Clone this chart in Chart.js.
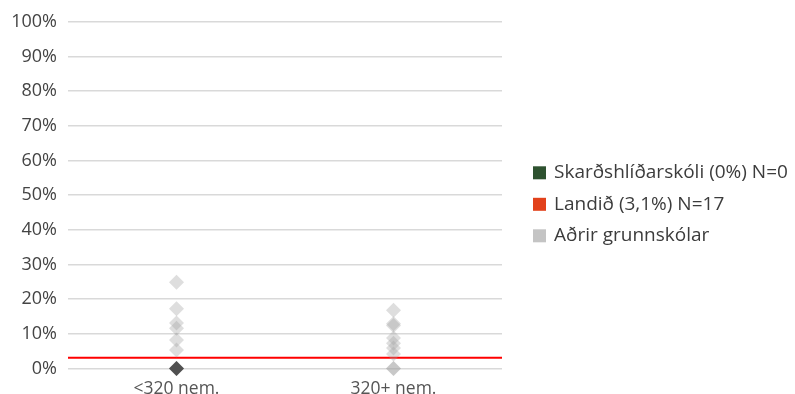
<!DOCTYPE html>
<html>
<head>
<meta charset="utf-8">
<script src="https://cdn.jsdelivr.net/npm/chart.js@4.4.0/dist/chart.umd.min.js"></script>
<style>
html,body{margin:0;padding:0;background:#fff;}
#wrap{width:795px;height:394px;}
</style>
</head>
<body>
<div id="wrap"><canvas id="c" width="795" height="394"></canvas></div>
<script>
const categories = ['<320 nem.', '320+ nem.'];
const yTicks = [0,10,20,30,40,50,60,70,80,90,100];
const othersSmall = [24.9, 17.2, 13.1, 11.6, 8.2, 5.3, 0, 0];
const othersLarge = [16.8, 12.9, 12.4, 8.8, 7.3, 5.9, 4.2, 0, 0];
const schoolValues = [0, null];
const nationalValue = 3.1;
const legendLabels = ['Skarðshlíðarskóli (0%) N=0', 'Landið (3,1%) N=17', 'Aðrir grunnskólar'];
const legendColors = ['#2e5230', '#e2411b', '#c4c4c4'];

const FONT = '"Open Sans", Lato, sans-serif';

const otherPoints = [];
othersSmall.forEach(v => otherPoints.push({x: 0, y: v}));
othersLarge.forEach(v => otherPoints.push({x: 1, y: v}));
const schoolPoints = [];
schoolValues.forEach((v, i) => { if (v !== null) schoolPoints.push({x: i, y: v}); });

Chart.defaults.font.family = FONT;
Chart.defaults.font.size = 17;
Chart.defaults.color = '#444';

const customLegend = {
  id: 'customLegend',
  afterDraw(chart) {
    const ctx = chart.ctx;
    const area = chart.chartArea;
    ctx.save();
    ctx.font = '19px ' + FONT;
    ctx.textBaseline = 'middle';
    ctx.textAlign = 'left';
    legendLabels.forEach((t, i) => {
      const x = area.right + 31;
      const y = area.top + 151 + i * 31.5;
      ctx.fillStyle = legendColors[i];
      ctx.fillRect(x, y - 6.5, 13, 13);
      ctx.fillStyle = '#3c3c3c';
      ctx.fillText(t, x + 21, y);
    });
    ctx.restore();
  }
};

new Chart(document.getElementById('c'), {
  type: 'scatter',
  data: {
    datasets: [
      {
        label: legendLabels[0],
        data: schoolPoints,
        pointStyle: 'rectRot',
        pointRadius: 7.5,
        backgroundColor: '#505050',
        borderWidth: 0,
        clip: false,
        order: 0
      },
      {
        label: legendLabels[2],
        data: otherPoints,
        pointStyle: 'rectRot',
        pointRadius: 7.5,
        backgroundColor: 'rgba(160,160,160,0.35)',
        borderWidth: 0,
        clip: false,
        order: 1
      },
      {
        label: legendLabels[1],
        type: 'line',
        data: [{x: -0.5, y: nationalValue}, {x: 1.5, y: nationalValue}],
        borderColor: '#ff0000',
        borderWidth: 2,
        pointRadius: 0,
        fill: false,
        order: 2
      }
    ]
  },
  options: {
    responsive: false,
    animation: false,
    layout: {padding: {left: 0, top: 20, right: 293, bottom: 0}},
    plugins: {
      tooltip: {enabled: false},
      legend: {display: false}
    },
    scales: {
      x: {
        type: 'linear',
        min: -0.5,
        max: 1.5,
        afterBuildTicks: (axis) => { axis.ticks = [{value: 0}, {value: 1}]; },
        afterFit: (axis) => { axis.height = 25.5; },
        ticks: {
          callback: (v) => categories[v],
          font: {size: 17.5},
          color: '#555',
          padding: 2,
          maxRotation: 0
        },
        grid: {display: false},
        border: {display: false}
      },
      y: {
        min: 0,
        max: 100,
        afterBuildTicks: (axis) => { axis.ticks = yTicks.map(v => ({value: v})); },
        afterFit: (axis) => { axis.width = 68; },
        ticks: {
          callback: (v) => v + '%',
          font: {size: 18},
          color: '#444',
          padding: 11
        },
        grid: {color: '#d9d9d9', lineWidth: 1.5, drawTicks: false},
        border: {display: false}
      }
    }
  },
  plugins: [customLegend]
});
</script>
</body>
</html>
